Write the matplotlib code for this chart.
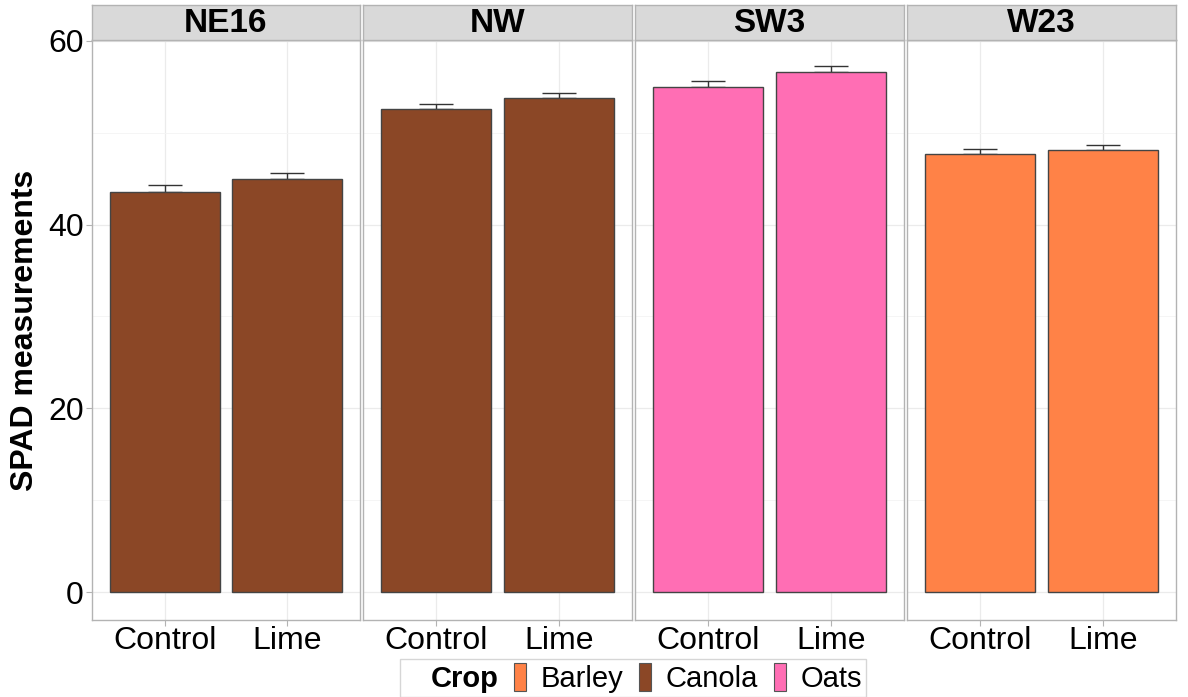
import numpy as np
import matplotlib.pyplot as plt
from matplotlib.patches import Patch

plt.rcParams['font.family'] = ['Liberation Sans', 'DejaVu Sans']

sites = ["NE16", "NW", "SW3", "W23"]
treatments = ["Control", "Lime"]
site_crop = ["Canola", "Canola", "Oats", "Barley"]
spad_mean = [[43.5, 44.9], [52.6, 53.8], [54.9, 56.6], [47.7, 48.15]]
spad_se = [[0.8, 0.75], [0.55, 0.45], [0.65, 0.6], [0.55, 0.5]]

crop_colors = {"Barley": "#FF8247", "Canola": "#8B4726", "Oats": "#FF6EB4"}

W, H = 1188, 697
fig = plt.figure(figsize=(W / 100, H / 100), dpi=100)

panel_x = [(92, 360), (363, 632), (635, 904), (907, 1176)]
top, bottom, strip_top = 40, 620, 5

for i, site in enumerate(sites):
    x0, x1 = panel_x[i]
    ax = fig.add_axes([x0 / W, 1 - bottom / H, (x1 - x0) / W, (bottom - top) / H])
    pos = np.arange(len(treatments))
    color = crop_colors[site_crop[i]]
    means = np.array(spad_mean[i])
    se = np.array(spad_se[i])
    ax.errorbar(pos, means, yerr=[np.zeros_like(se), se], fmt="none",
                ecolor="#333333", elinewidth=1, capsize=12, capthick=1, zorder=2)
    ax.bar(pos, means, width=0.9, color=color, edgecolor="#444444",
           linewidth=1, zorder=3)
    ax.set_xlim(-0.6, 1.6)
    ax.set_ylim(-3, 60.06)
    ax.set_yticks([0, 20, 40, 60])
    ax.set_yticks([10, 30, 50], minor=True)
    ax.set_xticks(pos)
    ax.set_xticklabels(treatments, fontsize=23)
    ax.grid(True, which="major", color="#EBEBEB", linewidth=0.9, zorder=0)
    ax.grid(True, which="minor", axis="y", color="#F4F4F4", linewidth=0.6, zorder=0)
    ax.set_axisbelow(True)
    for sp in ax.spines.values():
        sp.set_color("#B3B3B3")
        sp.set_linewidth(1)
    ax.tick_params(axis="x", which="major", color="#B3B3B3", length=4, pad=0)
    ax.tick_params(axis="y", which="major", color="#B3B3B3", length=4, pad=2)
    ax.tick_params(axis="y", which="minor", length=0)
    if i == 0:
        ax.set_yticklabels(["0", "20", "40", "60"], fontsize=23)
        ax.set_ylabel("SPAD measurements", fontsize=23, fontweight="bold", labelpad=6)
    else:
        ax.tick_params(axis="y", which="major", length=0, labelleft=False)

    # facet strip
    sax = fig.add_axes([x0 / W, 1 - top / H, (x1 - x0) / W, (top - strip_top) / H])
    sax.set_facecolor("#D9D9D9")
    sax.set_xticks([])
    sax.set_yticks([])
    for sp in sax.spines.values():
        sp.set_color("#B3B3B3")
        sp.set_linewidth(1)
    sax.text(0.5, 0.46, site, ha="center", va="center", fontsize=24,
             fontweight="bold", transform=sax.transAxes)

handles = [Patch(facecolor="none", edgecolor="none")]
labels = ["Crop"]
for crop in ["Barley", "Canola", "Oats"]:
    handles.append(Patch(facecolor=crop_colors[crop], edgecolor="#555555", linewidth=0.8))
    labels.append(crop)
leg = fig.legend(handles, labels, loc="center", bbox_to_anchor=(633 / W, 1 - 678 / H),
                 ncol=4, fontsize=21, frameon=True, fancybox=False,
                 handlelength=0.4, handleheight=1.1, handletextpad=0.5,
                 columnspacing=0.55, borderpad=0.15)
leg.get_frame().set_edgecolor("#CCCCCC")
leg.get_frame().set_linewidth(1)
leg.get_texts()[0].set_fontweight("bold")

fig.savefig("out.png", dpi=100)
